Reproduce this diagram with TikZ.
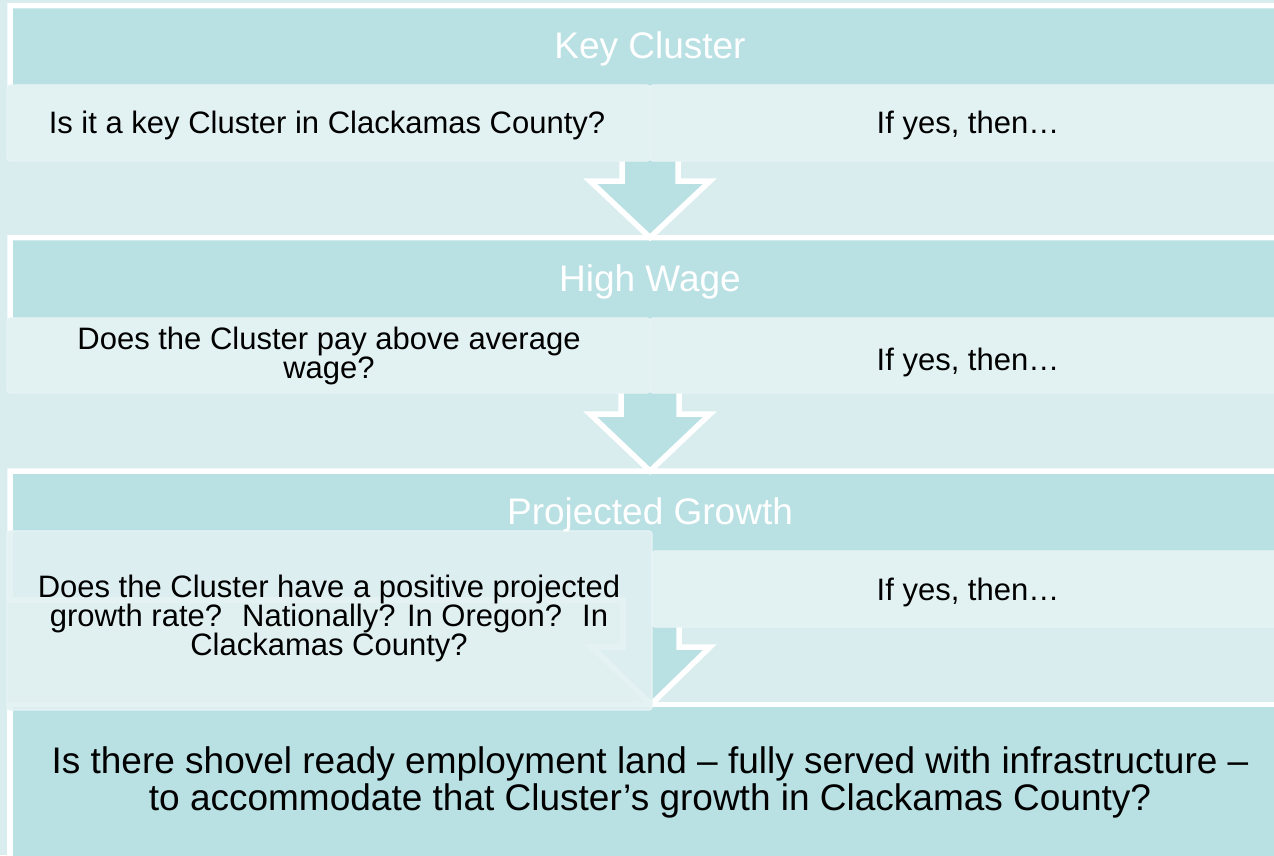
\documentclass[tikz,border=0pt]{standalone}
\usepackage{fontspec}
\setmainfont{Liberation Sans}
\definecolor{bgc}{HTML}{D9ECEE}
\definecolor{tealc}{HTML}{B9E0E3}
\definecolor{bandc}{HTML}{E2F1F2}
\definecolor{bandedge}{HTML}{E8F4F5}
\tikzset{
  callout/.style={fill=tealc, draw=white, line width=5.5pt, line join=miter},
  band/.style={fill=bandc, draw=bandedge, line width=1.2pt, rounded corners=3pt},
  headtxt/.style={text=white, inner sep=0pt, anchor=base, font=\fontsize{37}{37}\selectfont},
  subtxt/.style={text=black, inner sep=0pt, align=center, font=\fontsize{31}{29}\selectfont},
  bigtxt/.style={text=black, inner sep=0pt, align=center, font=\fontsize{37}{37}\selectfont}
}
\begin{document}
\begin{tikzpicture}[x=1pt,y=-1pt]
\useasboundingbox (0,0) rectangle (1274,855);
\clip (0,0) rectangle (1274,855);
\fill[bgc] (0,0) rectangle (1274,855);
% bottom panel
\path[callout] (10,704.5) rectangle (1300,900);
% level 3 callout
\path[callout] (10,471) -- (1300,471) -- (1300,600) -- (679,600) -- (679,647) -- (710,647) -- (651,704.5) -- (592,647) -- (623,647) -- (623,600) -- (10,600) -- cycle;
% level 2 callout
\path[callout] (10,237.5) -- (1300,237.5) -- (1300,370) -- (679,370) -- (679,414) -- (710,414) -- (650,471) -- (590,414) -- (621,414) -- (621,370) -- (10,370) -- cycle;
% level 1 callout
\path[callout] (10,5.5) -- (1300,5.5) -- (1300,140) -- (678,140) -- (678,181) -- (710,181) -- (650,237.5) -- (590,181) -- (622,181) -- (622,140) -- (10,140) -- cycle;
% bands
\path[band] (7,85) rectangle (650,161);
\path[band] (650,85) rectangle (1320,161);
\path[band] (7,318) rectangle (650,393);
\path[band] (650,318) rectangle (1320,393);
\path[band] (652,551) rectangle (1320,627);
\path[band, fill opacity=0.88] (7,531) rectangle (652,710);
% texts
\node[headtxt] (h1) at (650,58) {Key Cluster};
\node[headtxt] (h2) at (650,291) {High Wage};
\node[headtxt] (h3) at (650,524) {Projected Growth};
\node[subtxt, anchor=base] (s1l) at (327,133) {Is it a key Cluster in Clackamas County?};
\node[subtxt, anchor=base] (s1r) at (968,133) {If yes, then…};
\node[subtxt] (s2l) at (329,356) {Does the Cluster pay above average\\wage?};
\node[subtxt, anchor=base] (s2r) at (968,370) {If yes, then…};
\node[subtxt] (s3l) at (329,618) {Does the Cluster have a positive projected\\growth rate?~ Nationally? In Oregon?~ In\\Clackamas County?};
\node[subtxt, anchor=base] (s3r) at (968,600) {If yes, then…};
\node[bigtxt] (q) at (650,782) {Is there shovel ready employment land – fully served with infrastructure –\\to accommodate that Cluster’s growth in Clackamas County?};
\end{tikzpicture}
\end{document}
